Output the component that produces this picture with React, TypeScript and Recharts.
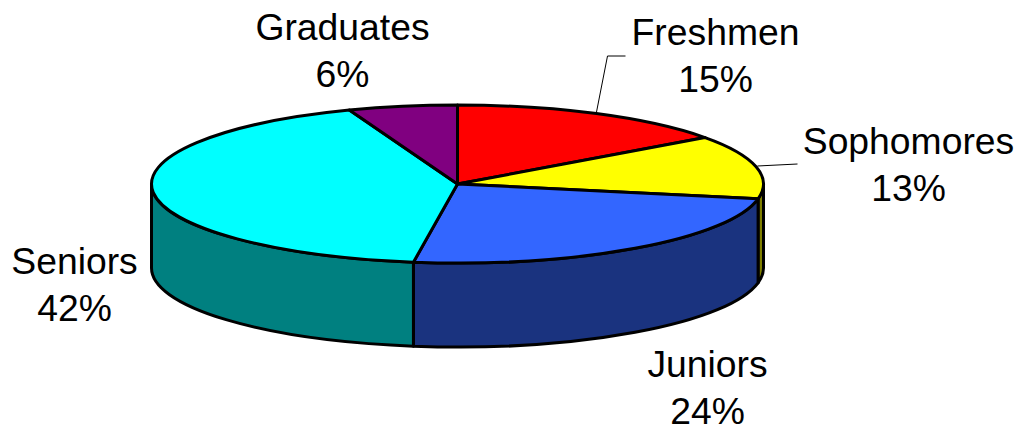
import React from 'react';
import { PieChart, Pie, Cell } from 'recharts';

const categories = ['Freshmen', 'Sophomores', 'Juniors', 'Seniors', 'Graduates'];
const shares = [15, 13, 24.3, 41.95, 5.75];
const topColors = ['#ff0000', '#ffff00', '#3366ff', '#00ffff', '#800080'];
const sideColors = ['#800000', '#808000', '#1a337f', '#008080', '#400040'];

const data = categories.map((name, i) => ({ name, value: shares[i] }));

const RY_RATIO = 79 / 306;
const DEPTH = 84;

// label centre relative to the pie centre, and optional leader line
const labelSpots = [
  { dx: 258, dy: -151, leader: [[139, -72], [150, -128], [168, -128]] },
  { dx: 451, dy: -42, leader: [[300, -18], [340, -20]] },
  { dx: 250, dy: 181 },
  { dx: -383, dy: 78 },
  { dx: -115, dy: -156 },
];

const point = (cx: number, cy: number, rx: number, deg: number) => {
  const a = (deg * Math.PI) / 180;
  return [cx + rx * Math.cos(a), cy - rx * RY_RATIO * Math.sin(a)];
};

const TiltedSector = (props: any) => {
  const { cx, cy, outerRadius: rx, startAngle, endAngle, fill, index } = props;
  const ry = rx * RY_RATIO;
  const [x1, y1] = point(cx, cy, rx, startAngle);
  const [x2, y2] = point(cx, cy, rx, endAngle);
  const large = Math.abs(endAngle - startAngle) > 180 ? 1 : 0;
  // the wall only shows on the lower half of the rim, -180..0 in chart degrees
  const from = Math.min(startAngle, 0);
  const to = Math.max(endAngle, -180);
  let wall = null;
  if (from > to) {
    const [wx1, wy1] = point(cx, cy, rx, from);
    const [wx2, wy2] = point(cx, cy, rx, to);
    const d = `M${wx1},${wy1}A${rx},${ry} 0 0 1 ${wx2},${wy2}L${wx2},${wy2 + DEPTH}A${rx},${ry} 0 0 0 ${wx1},${wy1 + DEPTH}Z`;
    wall = <path d={d} fill={sideColors[index]} stroke="#000" strokeWidth={3} strokeLinejoin="round" />;
  }
  return (
    <g>
      {wall}
      <path
        d={`M${cx},${cy}L${x1},${y1}A${rx},${ry} 0 ${large} 1 ${x2},${y2}Z`}
        fill={fill}
        stroke="#000"
        strokeWidth={3}
        strokeLinejoin="round"
      />
    </g>
  );
};

const renderLabel = (props: any) => {
  const { cx, cy, index, name, percent } = props;
  const spot = labelSpots[index];
  const x = cx + spot.dx;
  const y = cy + spot.dy;
  return (
    <g>
      {spot.leader && (
        <polyline
          points={spot.leader.map(([a, b]) => `${cx + a},${cy + b}`).join(' ')}
          fill="none"
          stroke="#000"
          strokeWidth={1}
        />
      )}
      <text x={x} y={y} textAnchor="middle" fontFamily="Liberation Sans" fontSize={37.3} fill="#000">
        <tspan x={x} dy={12}>{name}</tspan>
        <tspan x={x} dy={46.5}>{`${Math.round(percent * 100)}%`}</tspan>
      </text>
    </g>
  );
};

export default function App() {
  return (
    <div style={{ position: 'absolute', left: 0, top: 0, width: 1021, height: 426, background: '#fff' }}>
      <PieChart width={1021} height={426} margin={{ top: 0, right: 0, bottom: 0, left: 0 }}>
        <Pie
          data={data}
          dataKey="value"
          nameKey="name"
          cx={457.5}
          cy={184}
          innerRadius={0}
          outerRadius={306}
          startAngle={90}
          endAngle={-270}
          stroke="#000"
          shape={TiltedSector}
          label={renderLabel}
          labelLine={false}
          isAnimationActive={false}
        >
          {data.map((d, i) => (
            <Cell key={d.name} fill={topColors[i]} />
          ))}
        </Pie>
      </PieChart>
    </div>
  );
}
